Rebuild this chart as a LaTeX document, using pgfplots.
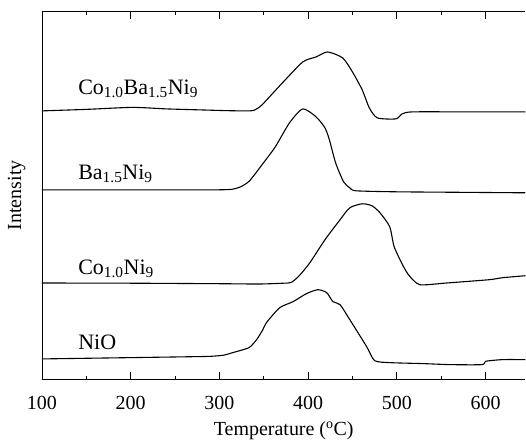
\documentclass[border=0pt]{standalone}
\usepackage{fontspec}
\setmainfont{Liberation Serif}
\usepackage{pgfplots}
\pgfplotsset{compat=1.18}
\pgfplotsset{curve/.style={black, line width=1.1pt, smooth, tension=0.4, mark=none}}

\begin{document}
\begin{tikzpicture}
\begin{axis}[
  scale only axis,
  width=484pt, height=369pt,
  xmin=100, xmax=645, ymin=0, ymax=369,
  axis x line=box, axis y line=left,
  axis line style={-, line width=0.9pt},
  tick align=inside,
  xtick={100,200,...,600},
  minor xtick={150,250,...,650},
  ytick=\empty,
  minor ytick={0,11.9,...,369},
  major tick length=8pt, minor tick length=4pt,
  tick style={line width=0.8pt, black},
  font=\rmfamily\fontsize{20}{24}\selectfont,
  /pgf/number format/assume math mode=true,
  xticklabel style={yshift=-13pt},
  xlabel style={yshift=-5pt},
  ylabel shift=13pt,
  xlabel={Temperature (\textsuperscript{o}C)},
  ylabel={Intensity},
  clip=false,
]
% Co1.0Ba1.5Ni9
\addplot[curve] coordinates {
  (100,269) (150,270.5) (202,272.5) (240,271) (278,270) (310,269.2) (334,269) (340,270)
  (348,275) (371,297) (394,318) (409,323) (422,328) (439,322)
  (450,308) (461,290) (469,272) (478,262) (499,261) (506,266)
  (518,268) (580,268) (645,268)
};
% Ba1.5Ni9
\addplot[curve] coordinates {
  (100,190) (200,190) (270,190) (300,190) (314,190.5) (324,193) (334,199) (348,215) (363,233) (379,257)
  (394,271) (409,263) (419,252) (424,240) (431,217) (440,198)
  (447,192) (454,189) (499,188) (570,187.5) (645,187)
};
% Co1.0Ni9
\addplot[curve] coordinates {
  (100,96.7) (200,96.5) (300,96) (345,95.7) (372,96.5) (381,97.3) (390,104) (402,117) (419,140)
  (436,160) (447,172) (461,176) (472,174) (481,167) (492,153)
  (497,133) (507,114) (514,104) (526,95) (556,96.7) (604,100)
  (619,102) (645,104)
};
% NiO
\addplot[curve] coordinates {
  (100,20.7) (200,22) (260,22.8) (290,23.3) (305,24.5) (315,27) (325,29.5) (334,32.3) (342,40) (349,50)
  (353,57) (368,72) (383,78) (398,86) (411,90) (421,87)
  (428,78) (436,75) (447,60) (466,33) (475,19) (492,17)
  (530,16) (560,15) (596,15) (600,18.3) (619,20) (645,20)
};
\node[anchor=base west, font=\rmfamily\fontsize{22}{26}\selectfont] at (axis cs:137,285.7) {Co\textsubscript{1.0}Ba\textsubscript{1.5}Ni\textsubscript{9}};
\node[anchor=base west, font=\rmfamily\fontsize{22}{26}\selectfont] at (axis cs:137,200) {Ba\textsubscript{1.5}Ni\textsubscript{9}};
\node[anchor=base west, font=\rmfamily\fontsize{22}{26}\selectfont] at (axis cs:137,105.7) {Co\textsubscript{1.0}Ni\textsubscript{9}};
\node[anchor=base west, font=\rmfamily\fontsize{22}{26}\selectfont] at (axis cs:137,30) {NiO};
\end{axis}
\path (-42pt,-60pt) rectangle (484pt,380pt);
\end{tikzpicture}
\end{document}
